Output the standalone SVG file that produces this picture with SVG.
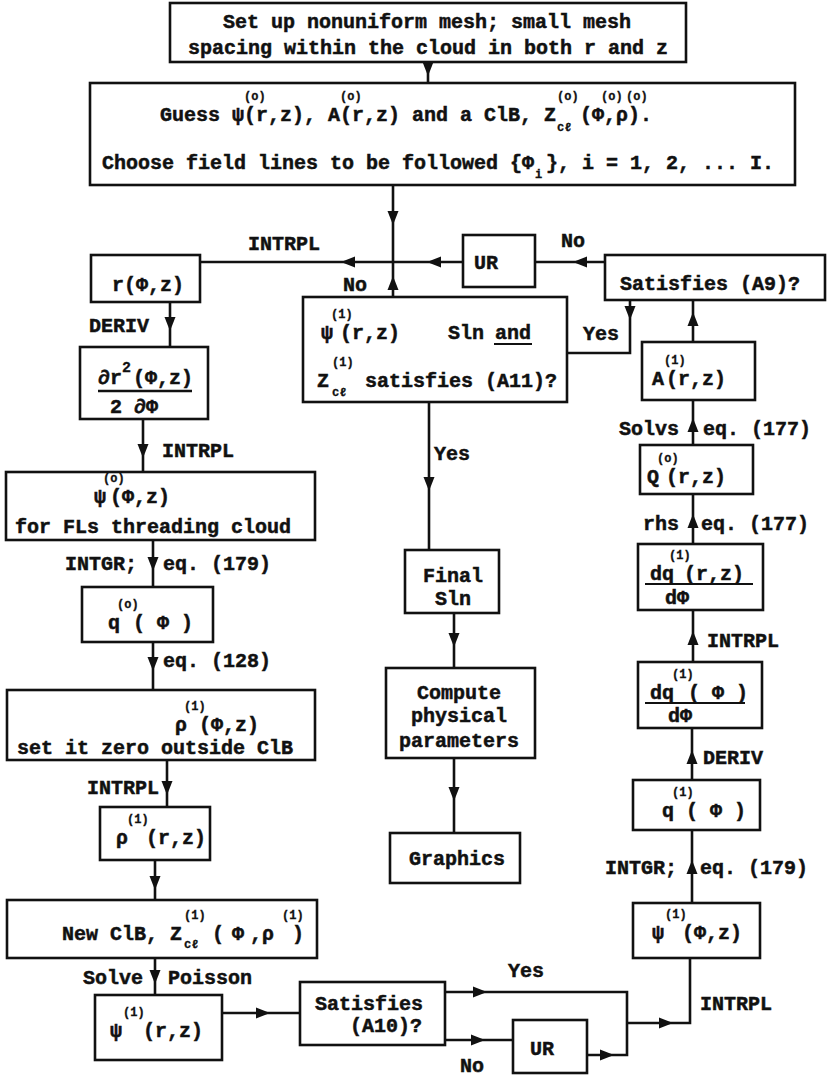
<svg xmlns="http://www.w3.org/2000/svg" xmlns:xlink="http://www.w3.org/1999/xlink" width="830" height="1076" viewBox="0 0 830 1076">
<style>
.bx{fill:#fff;stroke:#111;stroke-width:2.6}
.ln{fill:none;stroke:#111;stroke-width:2.6}
.t{font-family:"Liberation Mono","DejaVu Sans Mono",monospace;font-weight:bold;font-size:20px;fill:#111;stroke:#111;stroke-width:0.5}
.s{font-size:12px;stroke-width:0.3}
.m{text-anchor:middle}
.ah{fill:#111}
</style>
<defs>
<path id="ah" class="ah" d="M0,0 L-14,-5.5 L-14,5.5 Z"/>
</defs>
<rect width="830" height="1076" fill="#fff"/>

<g id="connectors">
<path class="ln" d="M428,62 V83"/>
<use xlink:href="#ah" transform="translate(428,76) rotate(90)"/>
<path class="ln" d="M393,185 V262"/>
<use xlink:href="#ah" transform="translate(393,225) rotate(90)"/>
<path class="ln" d="M393,297 V262"/>
<use xlink:href="#ah" transform="translate(393,276) rotate(-90)"/>
<path class="ln" d="M605,262 H535"/>
<use xlink:href="#ah" transform="translate(573,262) rotate(180)"/>
<path class="ln" d="M463,262 H200"/>
<use xlink:href="#ah" transform="translate(427,262) rotate(180)"/>
<use xlink:href="#ah" transform="translate(341,262) rotate(180)"/>
<path class="ln" d="M630,300 V353 H567"/>
<use xlink:href="#ah" transform="translate(630,320) rotate(90)"/>
<path class="ln" d="M693,342 V300"/>
<use xlink:href="#ah" transform="translate(693,312) rotate(-90)"/>
<path class="ln" d="M693,445 V400"/>
<use xlink:href="#ah" transform="translate(693,418) rotate(-90)"/>
<path class="ln" d="M693,544 V494"/>
<use xlink:href="#ah" transform="translate(693,514) rotate(-90)"/>
<path class="ln" d="M693,662 V610"/>
<use xlink:href="#ah" transform="translate(693,631) rotate(-90)"/>
<path class="ln" d="M692,780 V728"/>
<use xlink:href="#ah" transform="translate(692,750) rotate(-90)"/>
<path class="ln" d="M692,903 V830"/>
<use xlink:href="#ah" transform="translate(692,860) rotate(-90)"/>
<path class="ln" d="M445,992 H627 V1023"/>
<use xlink:href="#ah" transform="translate(487,992)"/>
<path class="ln" d="M445,1040 H513"/>
<use xlink:href="#ah" transform="translate(485,1040)"/>
<path class="ln" d="M587,1055 H627 V1023"/>
<use xlink:href="#ah" transform="translate(614,1055)"/>
<path class="ln" d="M627,1023 H690 V958"/>
<use xlink:href="#ah" transform="translate(673,1023)"/>
<path class="ln" d="M222,1013 H300"/>
<use xlink:href="#ah" transform="translate(270,1013)"/>
<path class="ln" d="M155,958 V995"/>
<use xlink:href="#ah" transform="translate(155,984) rotate(90)"/>
<path class="ln" d="M155,860 V900"/>
<use xlink:href="#ah" transform="translate(155,890) rotate(90)"/>
<path class="ln" d="M167,760 V807"/>
<use xlink:href="#ah" transform="translate(167,795) rotate(90)"/>
<path class="ln" d="M153,642 V690"/>
<use xlink:href="#ah" transform="translate(153,671) rotate(90)"/>
<path class="ln" d="M153,540 V587"/>
<use xlink:href="#ah" transform="translate(153,571) rotate(90)"/>
<path class="ln" d="M143,419 V472"/>
<use xlink:href="#ah" transform="translate(143,458) rotate(90)"/>
<path class="ln" d="M170,302 V347"/>
<use xlink:href="#ah" transform="translate(170,331) rotate(90)"/>
<path class="ln" d="M429,402 V550"/>
<use xlink:href="#ah" transform="translate(429,491) rotate(90)"/>
<path class="ln" d="M454,613 V668"/>
<use xlink:href="#ah" transform="translate(454,647) rotate(90)"/>
<path class="ln" d="M454,758 V833"/>
<use xlink:href="#ah" transform="translate(454,801) rotate(90)"/>

<text class="t" x="248" y="250">INTRPL</text>
<text class="t" x="343" y="291">No</text>
<text class="t" x="561" y="247">No</text>
<text class="t" x="583" y="340">Yes</text>
<text class="t" x="434" y="460">Yes</text>
<text class="t" x="89" y="332">DERIV</text>
<text class="t" x="162" y="457">INTRPL</text>
<text class="t" x="65" y="570">INTGR;</text>
<text class="t" x="163" y="570">eq. (179)</text>
<text class="t" x="163" y="667">eq. (128)</text>
<text class="t" x="87" y="794">INTRPL</text>
<text class="t" x="83" y="984">Solve</text>
<text class="t" x="168" y="984">Poisson</text>
<text class="t" x="508" y="977">Yes</text>
<text class="t" x="460" y="1072">No</text>
<text class="t" x="700" y="1010">INTRPL</text>
<text class="t" x="605" y="874">INTGR;</text>
<text class="t" x="700" y="874">eq. (179)</text>
<text class="t" x="703" y="764">DERIV</text>
<text class="t" x="707" y="647">INTRPL</text>
<text class="t" x="643" y="530">rhs</text>
<text class="t" x="701" y="530">eq. (177)</text>
<text class="t" x="619" y="435">Solvs</text>
<text class="t" x="703" y="435">eq. (177)</text>
</g>

<g id="n-setup">
<rect class="bx" x="170" y="3" width="516" height="59"/>
<text class="t" x="223" y="28">Set up nonuniform mesh; small mesh</text>
<text class="t" x="188" y="54">spacing within the cloud in both r and z</text>
</g>

<g id="n-guess">
<rect class="bx" x="90" y="83" width="705" height="102"/>
<text class="t" x="160" y="121">Guess ψ(r,z), A(r,z) and a ClB, Z</text>
<text class="t s" x="244" y="100">(o)</text>
<text class="t s" x="340" y="100">(o)</text>
<text class="t s" x="557" y="100">(o)</text>
<text class="t s" x="557" y="131">cℓ</text>
<text class="t" x="580" y="121">(Φ,ρ).</text>
<text class="t s" x="601" y="100">(o)</text>
<text class="t s" x="626" y="100">(o)</text>
<text class="t" x="102" y="169">Choose field lines to be followed {Φ</text>
<text class="t s" x="535" y="178">i</text>
<text class="t" x="546" y="169">}, i = 1, 2, ... I.</text>
</g>

<g id="n-r">
<rect class="bx" x="91" y="255" width="109" height="47"/>
<text class="t" x="112" y="291">r(Φ,z)</text>
</g>

<g id="n-dr2">
<rect class="bx" x="80" y="347" width="128" height="72"/>
<text class="t" x="98" y="384">∂r</text>
<text class="t s" x="122" y="372" style="font-size:15px">2</text>
<text class="t" x="133" y="384">(Φ,z)</text>
<line class="ln" x1="98" y1="391" x2="192" y2="391"/>
<text class="t" x="110" y="413">2 ∂Φ</text>
</g>

<g id="n-psi0">
<rect class="bx" x="6" y="472" width="309" height="68"/>
<text class="t" x="94" y="503">ψ</text>
<text class="t s" x="103" y="482">(o)</text>
<text class="t" x="110" y="503">(Φ,z)</text>
<text class="t" x="15" y="533">for FLs threading cloud</text>
</g>

<g id="n-q0">
<rect class="bx" x="82" y="587" width="131" height="55"/>
<text class="t" x="108" y="629">q</text>
<text class="t s" x="117" y="608">(o)</text>
<text class="t" x="133" y="629">( Φ )</text>
</g>

<g id="n-rho1">
<rect class="bx" x="7" y="690" width="308" height="70"/>
<text class="t" x="175" y="731">ρ</text>
<text class="t s" x="184" y="710">(1)</text>
<text class="t" x="199" y="731">(Φ,z)</text>
<text class="t" x="17" y="754">set it zero outside ClB</text>
</g>

<g id="n-rhorz">
<rect class="bx" x="100" y="807" width="110" height="53"/>
<text class="t" x="116" y="844">ρ</text>
<text class="t s" x="127" y="823">(1)</text>
<text class="t" x="146" y="844">(r,z)</text>
</g>

<g id="n-newclb">
<rect class="bx" x="7" y="900" width="310" height="58"/>
<text class="t" x="62" y="940">New ClB, Z</text>
<text class="t s" x="184" y="919">(1)</text>
<text class="t s" x="184" y="948">cℓ</text>
<text class="t" x="212" y="940">(</text>
<text class="t" x="232" y="940">Φ</text>
<text class="t" x="250" y="940">,ρ</text>
<text class="t s" x="282" y="919">(1)</text>
<text class="t" x="292" y="940">)</text>
</g>

<g id="n-psirz">
<rect class="bx" x="95" y="995" width="127" height="65"/>
<text class="t" x="110" y="1037">ψ</text>
<text class="t s" x="123" y="1016">(1)</text>
<text class="t" x="143" y="1037">(r,z)</text>
</g>

<g id="n-a10">
<rect class="bx" x="300" y="982" width="145" height="63"/>
<text class="t" x="315" y="1010">Satisfies</text>
<text class="t" x="350" y="1032">(A10)?</text>
</g>

<g id="n-ur2">
<rect class="bx" x="513" y="1020" width="74" height="53"/>
<text class="t" x="530" y="1055">UR</text>
</g>

<g id="n-ur1">
<rect class="bx" x="463" y="235" width="72" height="52"/>
<text class="t" x="474" y="269">UR</text>
</g>

<g id="n-a9">
<rect class="bx" x="605" y="255" width="220" height="45"/>
<text class="t" x="620" y="290">Satisfies  (A9)?</text>
</g>

<g id="n-center">
<rect class="bx" x="303" y="297" width="264" height="105"/>
<text class="t" x="321" y="339">ψ</text>
<text class="t s" x="331" y="318">(1)</text>
<text class="t" x="340" y="339">(r,z)</text>
<text class="t" x="448" y="339">Sln</text>
<text class="t" x="495" y="339">and</text>
<line class="ln" x1="494" y1="344" x2="532" y2="344" style="stroke-width:2"/>
<text class="t" x="317" y="387">Z</text>
<text class="t s" x="332" y="366">(1)</text>
<text class="t s" x="332" y="396">cℓ</text>
<text class="t" x="365" y="387">satisfies (A11)?</text>
</g>

<g id="n-final">
<rect class="bx" x="405" y="550" width="94" height="63"/>
<text class="t m" x="453" y="582">Final</text>
<text class="t m" x="453" y="605">Sln</text>
</g>

<g id="n-compute">
<rect class="bx" x="386" y="668" width="149" height="90"/>
<text class="t m" x="459" y="699">Compute</text>
<text class="t m" x="459" y="722">physical</text>
<text class="t m" x="459" y="747">parameters</text>
</g>

<g id="n-graphics">
<rect class="bx" x="390" y="833" width="130" height="50"/>
<text class="t m" x="457" y="865">Graphics</text>
</g>

<g id="n-a1">
<rect class="bx" x="642" y="342" width="113" height="58"/>
<text class="t" x="652" y="385">A</text>
<text class="t s" x="664" y="364">(1)</text>
<text class="t" x="666" y="385">(r,z)</text>
</g>

<g id="n-Q0">
<rect class="bx" x="640" y="445" width="113" height="49"/>
<text class="t" x="647" y="483">Q</text>
<text class="t s" x="657" y="462">(o)</text>
<text class="t" x="666" y="483">(r,z)</text>
</g>

<g id="n-dqrz">
<rect class="bx" x="638" y="544" width="125" height="66"/>
<text class="t" x="650" y="580">dq</text>
<text class="t s" x="669" y="559">(1)</text>
<text class="t" x="684" y="580">(r,z)</text>
<line class="ln" x1="645" y1="584" x2="753" y2="584" style="stroke-width:2"/>
<text class="t" x="665" y="604">dΦ</text>
</g>

<g id="n-dqphi">
<rect class="bx" x="638" y="662" width="124" height="66"/>
<text class="t" x="650" y="699">dq</text>
<text class="t s" x="672" y="678">(1)</text>
<text class="t" x="688" y="699">( Φ )</text>
<line class="ln" x1="645" y1="703" x2="745" y2="703" style="stroke-width:2"/>
<text class="t" x="668" y="722">dΦ</text>
</g>

<g id="n-q1">
<rect class="bx" x="633" y="780" width="127" height="50"/>
<text class="t" x="662" y="817">q</text>
<text class="t s" x="672" y="796">(1)</text>
<text class="t" x="686" y="817">( Φ )</text>
</g>

<g id="n-psi1">
<rect class="bx" x="633" y="903" width="127" height="55"/>
<text class="t" x="652" y="939">ψ</text>
<text class="t s" x="665" y="918">(1)</text>
<text class="t" x="682" y="939">(Φ,z)</text>
</g>
</svg>
